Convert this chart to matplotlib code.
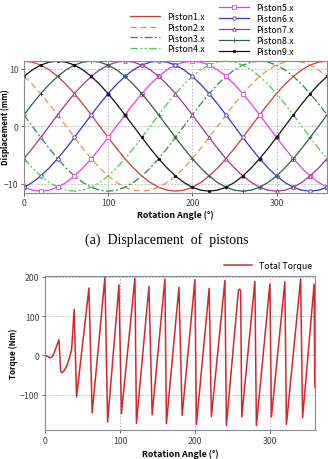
import numpy as np
import matplotlib
matplotlib.use("Agg")
import matplotlib.pyplot as plt

# piston 1 displacement (mm), read every 10 deg from 0 to 350
PROFILE_DEG = list(range(0, 370, 10))
PISTON1_MM = [11.3, 11.13, 10.62, 9.79, 8.66, 7.26, 5.65, 3.86, 1.96, 0.0,
              -1.96, -3.86, -5.65, -7.26, -8.66, -9.79, -10.62, -11.13, -11.3,
              -11.13, -10.62, -9.79, -8.66, -7.26, -5.65, -3.86, -1.96, 0.0,
              1.96, 3.86, 5.65, 7.26, 8.66, 9.79, 10.62, 11.13]
# angle of top dead centre for each piston (deg)
PISTON_PEAK_DEG = [0, 320, 280, 240, 200, 160, 120, 80, 40]
PISTON_NAMES = ["Piston%d.x" % i for i in range(1, 10)]

TORQUE_DEG = [0, 3, 6.7, 10, 13, 18.7, 20.9, 22.2, 25, 28.9, 32, 35.6, 39, 42.2,
              58.7, 63, 80, 83.6, 98.7, 102, 120, 122, 138.7, 143, 160, 162,
              178.7, 183, 200, 202, 219, 222, 240, 242, 258, 259.5, 261, 262.5,
              280, 282, 300, 302, 320, 322, 341, 343.6, 359, 360]
TORQUE_NM = [0, -2, -6, -3, 10, 40, -37, -44, -40, -28, -10, 15, 117, -105,
             171, -146, 198, -169, 179, -148, 196, -172, 175, -150, 194, -173,
             173, -152, 192, -175, 170, -155, 190, -178, 166, 168, 164, -156,
             188, -178, 181, -156, 187, -175, 194, -158, 181, -80]

STYLES = [
    dict(color="#d23a3a", ls="-"),
    dict(color="#e8904a", ls=(0, (5, 3))),
    dict(color="#2e8b3e", ls=(0, (6, 2, 1.5, 2))),
    dict(color="#3fd03f", ls=(0, (6, 2, 1.5, 2, 1.5, 2))),
    dict(color="#e33fe3", ls="-", marker="s", mfc="white", ms=2.5),
    dict(color="#3838b8", ls="-", marker="o", mfc="white", ms=2.5),
    dict(color="#9a3a8a", ls="-", marker="^", mfc="white", ms=2.5),
    dict(color="#2f5f45", ls="-", marker="+", ms=2.5),
    dict(color="#111111", ls="-", marker="s", ms=1.8),
]

plt.rcParams["font.family"] = ["Noto Sans CJK KR", "DejaVu Sans"]
GRID = dict(color="#b0b0b0", ls=(0, (2, 2)), lw=0.6)

fig = plt.figure(figsize=(3.28, 4.60), dpi=100)

# ---- (a) displacement
ax1 = fig.add_axes([0.073, 0.579, 0.924, 0.287])
handles = []
for name, peak, st in zip(PISTON_NAMES, PISTON_PEAK_DEG, STYLES):
    k = peak // 10
    vals = PISTON1_MM[-k:] + PISTON1_MM[:-k] if k else list(PISTON1_MM)
    vals = vals + [vals[0]]
    h, = ax1.plot(PROFILE_DEG, vals, lw=0.9, markevery=2, mew=0.6, **st)
    handles.append(h)
ax1.set_xlim(0, 360)
ax1.set_ylim(-11.56, 11.39)
ax1.set_xticks([0, 100, 200, 300])
ax1.set_yticks([-10, 0, 10])
ax1.grid(True, **GRID)
ax1.set_xlabel("Rotation Angle (°)", fontsize=6.3, fontweight="bold", labelpad=2)
ax1.set_ylabel("Displacement (mm)", fontsize=5.6, fontweight="bold")
ax1.yaxis.set_label_coords(-0.047, 0.5)

leg_kw = dict(loc="upper left", frameon=False, fontsize=6.3, handlelength=3.4,
              handletextpad=0.8, labelspacing=0.22, borderpad=0)
fig.legend(handles[:4], PISTON_NAMES[:4], bbox_to_anchor=(0.383, 0.982), **leg_kw)
fig.legend(handles[4:], PISTON_NAMES[4:], bbox_to_anchor=(0.655, 1.001), **leg_kw)

fig.text(0.508, 0.478, "(a)  Displacement  of  pistons", ha="center", va="center",
         family="Liberation Serif", fontsize=10)

# ---- (b) torque
ax2 = fig.add_axes([0.137, 0.063, 0.823, 0.334])
ax2.plot(TORQUE_DEG, TORQUE_NM, color="#d4262e", lw=1.1, label="Total Torque")
ax2.set_xlim(0, 360)
ax2.set_ylim(-189, 200.5)
ax2.set_xticks([0, 100, 200, 300])
ax2.set_yticks([-100, 0, 100, 200])
ax2.grid(True, **GRID)
ax2.set_xlabel("Rotation Angle (°)", fontsize=6.3, fontweight="bold", labelpad=3)
ax2.set_ylabel("Torque (Nm)", fontsize=5.8, fontweight="bold")
ax2.yaxis.set_label_coords(-0.1, 0.5)
ax2.legend(loc="lower right", bbox_to_anchor=(1.005, 1.01), frameon=False,
           fontsize=6.3, handlelength=3.2, handletextpad=0.8, borderpad=0)

for ax in (ax1, ax2):
    ax.tick_params(labelsize=6.3, length=2, width=0.6, colors="#444444", pad=2)
    for s in ax.spines.values():
        s.set_color("#8a8a8a")
        s.set_linewidth(0.8)

fig.savefig("out.png", dpi=100)
